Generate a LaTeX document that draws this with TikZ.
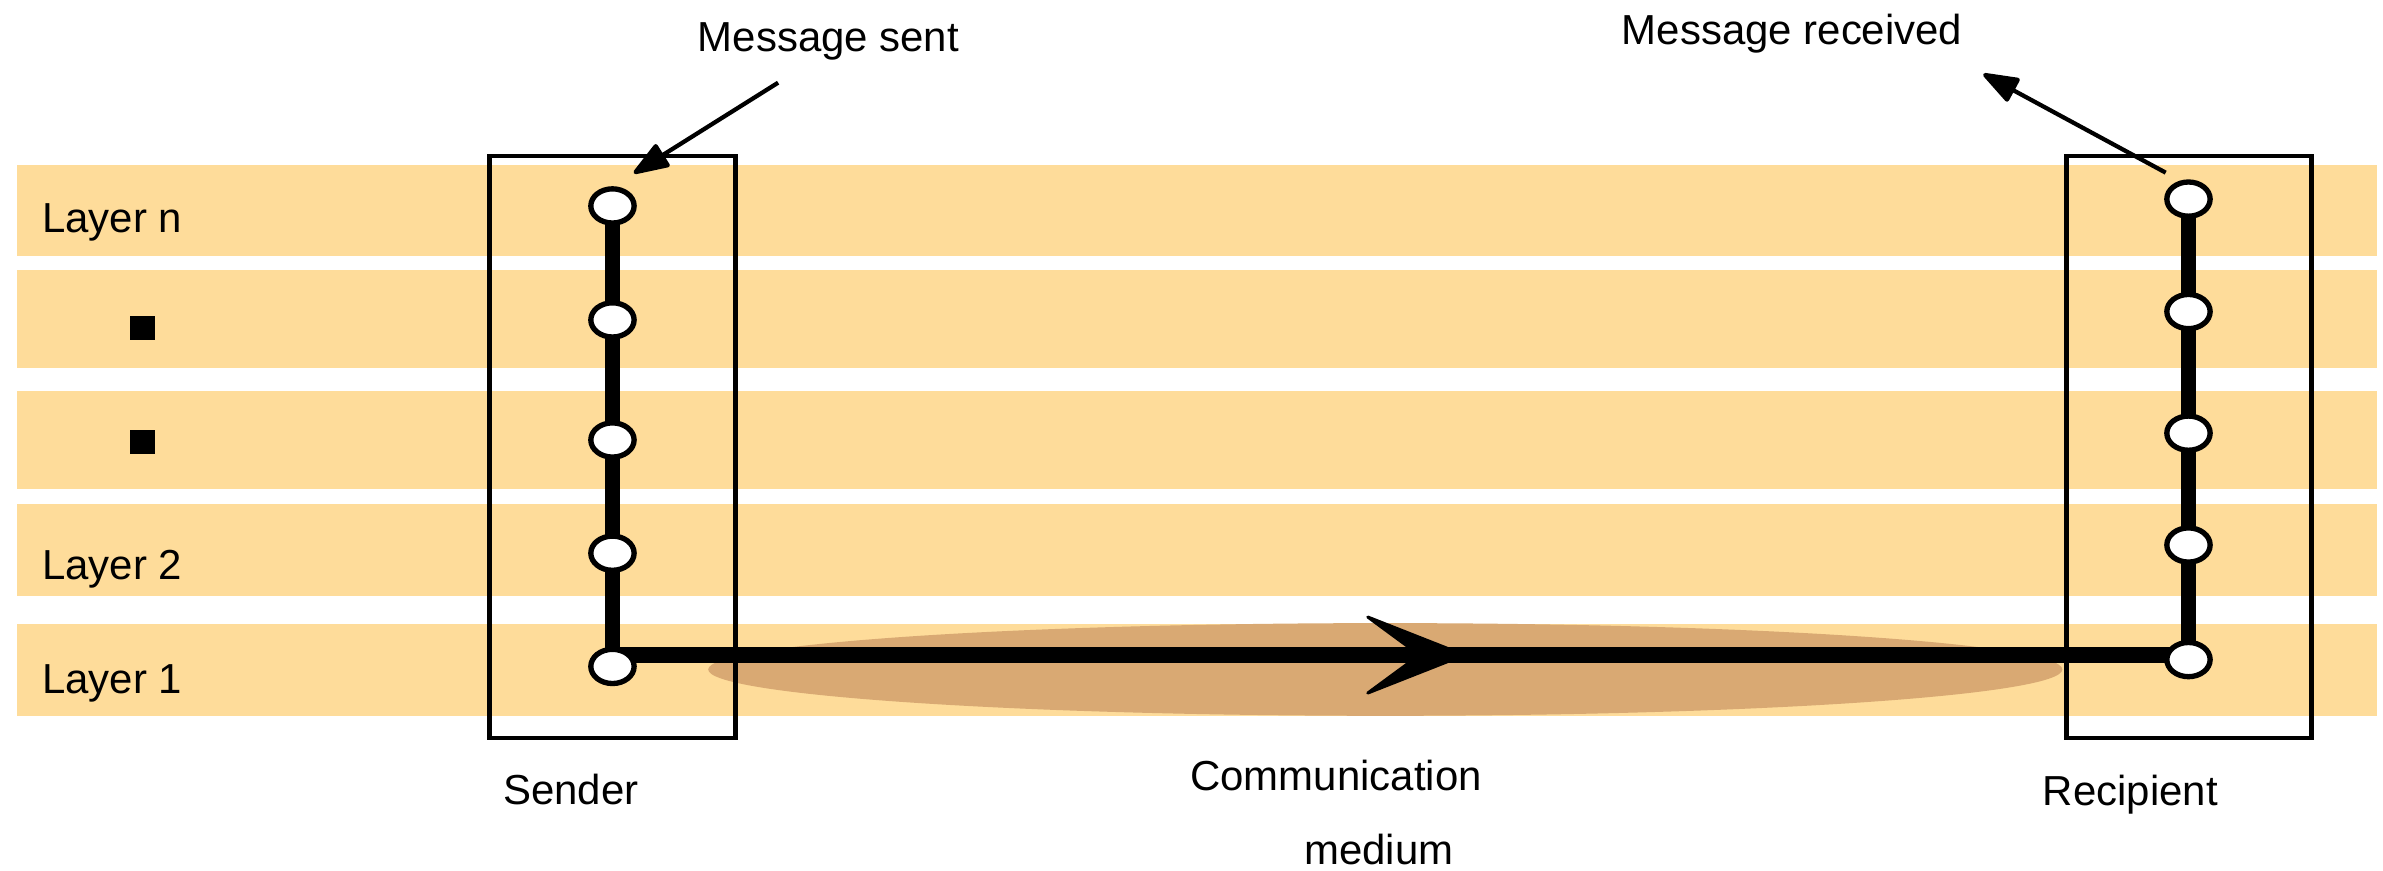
\documentclass[tikz,border=0pt]{standalone}
\usepackage{fontspec}
\setmainfont{Liberation Sans}
\usetikzlibrary{arrows.meta,calc,shapes.geometric}
\pgfdeclarelayer{back}
\pgfdeclarelayer{mid}
\pgfsetlayers{back,mid,main}
\definecolor{bandc}{HTML}{FEDC9A}
\definecolor{mediumc}{HTML}{D9A973}
\begin{document}
\begin{tikzpicture}[x=1pt,y=-1pt,
  lbl/.style={inner sep=0pt,anchor=base west,font=\fontsize{27.6}{33}\selectfont},
  lnode/.style={ellipse,draw=black,fill=white,line width=3.5pt,minimum width=28.5pt,minimum height=22.5pt,inner sep=0pt},
  sq/.style={rectangle,fill=black,minimum size=16pt,inner sep=0pt},
  frame/.style={draw=black,line width=3.2pt},
  vbar/.style={line width=9.5pt},
  hbar/.style={line width=10pt},
  chev/.style={fill=black,draw=black,line width=2pt,line join=round},
  msg/.style={line width=2.8pt,-{Triangle[length=26pt,width=18pt,round]}},
  band/.style={fill=bandc},
]
\useasboundingbox (0,0) rectangle (1568,573);
% layer bands and medium
\begin{pgfonlayer}{back}
\fill[band] (11,108.6) rectangle (1564,168.2);
\fill[band] (11,177.7) rectangle (1564,242);
\fill[band] (11,257) rectangle (1564,321.7);
\fill[band] (11,331.7) rectangle (1564,392);
\fill[band] (11,410.6) rectangle (1564,471);
\fill[mediumc] (911.5,440.5) ellipse [x radius=445.5pt, y radius=30.5pt];
\end{pgfonlayer}
% sender stack
\node[lnode] (s5) at (403,135.5) {};
\node[lnode] (s4) at (403,210.5) {};
\node[lnode] (s3) at (403,289.5) {};
\node[lnode] (s2) at (403,364) {};
\node[lnode] (s1) at (403,438.5) {};
% recipient stack
\node[lnode] (r5) at (1440,131) {};
\node[lnode] (r4) at (1440,205) {};
\node[lnode] (r3) at (1440,285) {};
\node[lnode] (r2) at (1440,358.6) {};
\node[lnode] (r1) at (1440,434) {};
\coordinate (h0) at ($(s1.center)+(0,-7.5)$);
\coordinate (ms0) at (512,54.4);
\coordinate (ms1) at (417,114);
\coordinate (mr0) at (1425,113.6);
\coordinate (mr1) at (1305,48.7);
\begin{pgfonlayer}{mid}
\draw[frame] (322,102.6) rectangle (484,485.6);
\draw[frame] (1359.7,102.6) rectangle (1520.8,485.6);
\draw[vbar] (s1.center) -- (s5.center);
\draw[vbar] (r1.center) -- (r5.center);
\draw[hbar] (h0) -- (h0 -| r1.center);
\filldraw[chev] (963.5,431) -- (900,406) -- (934,431) -- (900,456) -- cycle;
\end{pgfonlayer}
\draw[msg] (ms0) -- (ms1);
\draw[msg] (mr0) -- (mr1);
% labels
\node[lbl] (ln) at (27.5,152.7) {Layer n};
\node[sq] (d1) at (93.7,215.6) {};
\node[sq] (d2) at (93.7,291) {};
\node[lbl] (l2) at (27.5,381) {Layer 2};
\node[lbl] (l1) at (27.5,456) {Layer 1};
\node[lbl] (tsent) at (459,34) {Message sent};
\node[lbl] (trecv) at (1067,29.6) {Message received};
\node[lbl] (tsend) at (331,529.5) {Sender};
\node[lbl] (tcomm) at (783,520) {Communication};
\node[lbl] (tmed) at (858,569) {medium};
\node[lbl] (trec) at (1344,530) {Recipient};
\end{tikzpicture}
\end{document}
